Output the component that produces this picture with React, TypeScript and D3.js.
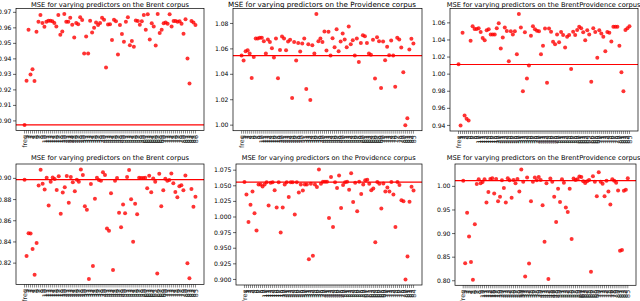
import React from "react";
import * as d3 from "d3";

// predictor labels on the x axis ("freq" then numbered predictors)
const predictors = [
  "freq", "1", "2", "3", "4", "5", "6", "7", "8", "9", "10", "11", "12", "13", "14", "15",
  "16", "17", "18", "19", "20", "21", "22", "23", "24", "25", "26", "27", "28", "29", "30",
  "31", "32", "33", "34", "35", "36", "37", "38", "39", "40", "41", "42", "43", "44", "45",
  "46", "47", "48", "49", "50", "51", "52", "53", "54", "55", "56", "57", "58", "59", "60",
  "61", "62", "63", "64", "65", "66", "67", "68", "69", "70", "71", "72", "73", "74", "75",
  "76", "77", "78", "79", "80", "81", "82", "83", "84", "85", "86",
];

// top row
const brentA = [
  0.8974, 0.9259, 0.9588, 0.93, 0.9333, 0.9257, 0.9575, 0.964, 0.9683, 0.9631, 0.9607, 0.964,
  0.9646, 0.9646, 0.9642, 0.9631, 0.9609, 0.9683, 0.9555, 0.9577, 0.9689, 0.964, 0.964, 0.9665,
  0.962, 0.9538, 0.9631, 0.9624, 0.9668, 0.965, 0.9434, 0.9544, 0.9434, 0.9646, 0.957, 0.9601,
  0.9635, 0.9618, 0.9631, 0.9665, 0.9652, 0.9344, 0.9622, 0.9624, 0.9521, 0.9652, 0.9642, 0.9428,
  0.9618, 0.956, 0.951, 0.964, 0.9668, 0.9488, 0.9516, 0.9478, 0.9648, 0.9644, 0.962, 0.9642,
  0.9683, 0.9588, 0.9687, 0.9525, 0.9629, 0.9609, 0.9486, 0.9689, 0.9566, 0.9588, 0.9629, 0.9635,
  0.9627, 0.9687, 0.9609, 0.9644, 0.9644, 0.964, 0.9642, 0.9627, 0.9562, 0.9655, 0.9402, 0.9242,
  0.9644, 0.9635, 0.9618,
];
const providenceA = [
  1.0547, 1.0508, 1.0582, 1.0589, 1.0563, 1.0371, 1.0537, 1.0682, 1.0682, 1.0687, 1.0687, 1.0661,
  1.0563, 1.0674, 1.0655, 1.0605, 1.0532, 1.0682, 1.0368, 1.0592, 1.0697, 1.0682, 1.0589, 1.0658,
  1.0671, 1.0213, 1.0655, 1.0508, 1.0647, 1.0579, 1.0642, 1.0682, 1.0284, 1.0637, 1.0197, 1.0629,
  1.0563, 1.0874, 1.0661, 1.0682, 1.0655, 1.0737, 1.0587, 1.0734, 1.0547, 1.0684, 1.0613, 1.0755,
  1.0582, 1.0658, 1.0721, 1.0674, 1.0613, 1.0776, 1.0637, 1.0668, 1.0547, 1.0682, 1.0497, 1.0647,
  1.0708, 1.07, 1.0647, 1.0563, 1.0553, 1.0671, 1.0366, 1.0692, 1.0661, 1.0292, 1.0658, 1.0511,
  1.0616, 1.055, 1.0666, 1.0547, 1.0303, 1.0687, 1.0674, 1.0611, 1.0416, 1.0, 1.0055, 1.0595,
  1.0679, 1.0642,
];
const brentProvA = [
  1.0117, 0.94, 1.0485, 0.9515, 0.9479, 0.9459, 1.039, 1.056, 1.0529, 1.0529, 1.0537, 1.0493,
  1.0422, 1.0398, 1.0513, 1.0525, 1.0465, 1.0465, 1.0465, 1.0537, 1.0596, 1.0299, 1.043, 1.0545,
  1.0505, 1.0152, 1.0501, 1.0465, 1.0501, 1.0232, 1.0703, 1.0545, 0.98, 1.0489, 0.995, 1.0101,
  1.045, 1.056, 1.0525, 1.0509, 1.0501, 1.0232, 1.0331, 1.0533, 0.9899, 1.0533, 1.0497, 1.0378,
  1.035, 1.0465, 1.0374, 1.0493, 1.0457, 1.0311, 1.0438, 1.0457, 1.0061, 1.0497, 1.0457, 1.0517,
  1.0556, 1.0537, 1.0489, 1.0398, 1.0513, 1.0465, 0.9911, 1.0537, 1.0493, 1.0192, 1.0513, 1.0477,
  1.0438, 1.0267, 1.0493, 1.0485, 1.0382, 1.0556, 1.0556, 1.0556, 1.0331, 1.0022, 0.98, 1.0517,
  1.0537, 1.056,
];

// bottom row
const brentB = [
  0.8988, 0.8268, 0.8483, 0.848, 0.8334, 0.8091, 0.839, 0.8932, 0.9081, 0.895, 0.8894, 0.9006,
  0.8745, 0.8969, 0.9009, 0.8994, 0.8891, 0.9019, 0.8667, 0.8866, 0.8916, 0.9022, 0.877, 0.9012,
  0.8963, 0.8879, 0.8988, 0.8969, 0.9084, 0.9031, 0.8738, 0.8704, 0.805, 0.8947, 0.8172, 0.8807,
  0.9006, 0.8984, 0.8978, 0.9059, 0.9031, 0.8527, 0.8505, 0.886, 0.8135, 0.8978, 0.9003, 0.8676,
  0.8539, 0.8754, 0.867, 0.9012, 0.9078, 0.8804, 0.8402, 0.876, 0.8661, 0.9006, 0.9003, 0.9003,
  0.9006, 0.8907, 0.9025, 0.8869, 0.9, 0.8969, 0.8103, 0.9044, 0.8738, 0.8888, 0.8997, 0.8978,
  0.8984, 0.9047, 0.8953, 0.8872, 0.8823, 0.8925, 0.8935, 0.8888, 0.9028, 0.82, 0.8057, 0.89,
  0.8732, 0.8826,
];
const providenceB = [
  1.056, 1.036, 0.992, 1.0197, 1.0408, 1.0061, 0.9785, 1.0522, 1.0522, 1.049, 1.0522, 1.0555,
  1.0186, 1.0549, 1.0555, 1.043, 1.0153, 1.0555, 0.9752, 1.0153, 1.0522, 1.0555, 1.0322, 1.0555,
  1.0555, 1.004, 1.0555, 1.0392, 1.0522, 1.0425, 1.0522, 1.0522, 0.9324, 1.0533, 0.9378, 1.0522,
  1.0479, 1.0761, 1.0533, 1.0566, 1.0566, 1.0566, 0.9985, 1.0642, 0.9839, 1.0555, 1.0463, 1.0663,
  1.0143, 1.0511, 1.0555, 1.0566, 1.0435, 1.0701, 1.024, 1.0549, 1.0094, 1.0566, 1.037, 1.0522,
  1.0587, 1.0598, 1.0533, 1.043, 1.0457, 0.9595, 1.056, 1.0533, 1.0137, 1.0538, 1.0408, 1.0473,
  1.0408, 1.056, 1.036, 0.9839, 1.056, 1.0511, 1.0267, 1.0251, 0.8999, 0.9367, 1.0246, 1.0484,
  1.0425,
];
const brentProvB = [
  1.0121, 0.8371, 0.9443, 0.8936, 0.84, 0.8021, 0.92, 1.005, 1.015, 1.0064, 1.0093, 1.015,
  0.9657, 0.9879, 1.0157, 1.0171, 0.985, 1.0157, 0.9686, 0.9779, 1.0129, 0.9964, 0.9657, 1.0171,
  1.0129, 0.9757, 1.0136, 1.0064, 1.0157, 0.9893, 1.0357, 1.01, 0.8093, 1.0186, 0.8364, 0.9686,
  1.01, 1.0186, 1.0129, 1.02, 1.0136, 0.96, 0.8829, 1.0064, 0.8036, 1.0164, 1.01, 0.9779,
  0.9243, 0.995, 0.9671, 1.015, 1.0079, 0.955, 0.9457, 0.995, 0.8886, 1.0164, 1.0136, 1.015,
  1.0207, 1.02, 1.0107, 1.0071, 1.0107, 1.0136, 0.8193, 1.0214, 1.01, 0.9793, 1.03, 1.01,
  1.0057, 0.9793, 1.0121, 0.9893, 0.9614, 1.015, 1.0121, 1.0079, 0.9914, 0.8636, 0.865, 0.9907,
  0.9929, 1.0171,
];

// baseline MSE (red horizontal line)
const baselines = [0.8974, 1.0547, 1.0113, 0.8988, 1.0558, 1.0121];

const titles = [
  "MSE for varying predictors on the Brent corpus",
  "MSE for varying predictors on the Providence corpus",
  "MSE for varying predictors on the BrentProvidence corpus",
  "MSE for varying predictors on the Brent corpus",
  "MSE for varying predictors on the Providence corpus",
  "MSE for varying predictors on the BrentProvidence corpus",
];

const yTicks = [
  [0.9, 0.91, 0.92, 0.93, 0.94, 0.95, 0.96, 0.97],
  [1.0, 1.02, 1.04, 1.06, 1.08],
  [0.94, 0.96, 0.98, 1.0, 1.02, 1.04, 1.06],
  [0.82, 0.84, 0.86, 0.88, 0.9],
  [0.9, 0.925, 0.95, 0.975, 1.0, 1.025, 1.05, 1.075],
  [0.8, 0.85, 0.9, 0.95, 1.0],
];
const yFormats = [".2f", ".2f", ".2f", ".2f", ".3f", ".2f"];

const series = [brentA, providenceA, brentProvA, brentB, providenceB, brentProvB];

// axes boxes: [left, right, top, bottom] and title placement
const layout = [
  { box: [16, 204, 8.5, 130.5], tx: 31, ty: 6.5, tw: 158, fs: 6.7 },
  { box: [233, 422, 8.5, 130.7], tx: 228, ty: 6.5, tw: 188, fs: 7.1 },
  { box: [450, 638, 8.5, 131], tx: 446.7, ty: 6.5, tw: 0, fs: 6.7 },
  { box: [16, 204, 164, 284.5], tx: 31, ty: 159.5, tw: 158, fs: 6.7 },
  { box: [236, 422, 164, 285], tx: 241.7, ty: 159.5, tw: 174, fs: 6.6 },
  { box: [455, 636, 164, 285.3], tx: 446.7, ty: 159.5, tw: 0, fs: 6.7 },
];

const FONT = "DejaVu Sans, sans-serif";

function Panel({ i }: { i: number }) {
  const values = series[i];
  const [x0, x1, y0, y1] = layout[i].box;
  const n = values.length;
  const x = d3
    .scaleLinear()
    .domain([-0.05 * (n - 1), 1.05 * (n - 1)])
    .range([x0, x1]);
  const [lo, hi] = d3.extent(values) as [number, number];
  const pad = (hi - lo) * 0.05;
  const y = d3.scaleLinear().domain([lo - pad, hi + pad]).range([y1, y0]);
  const fmt = d3.format(yFormats[i]);
  const L = layout[i];

  return (
    <g>
      <text
        x={L.tx}
        y={L.ty}
        fontSize={L.fs}
        fill="#000"
        {...(L.tw ? { textLength: L.tw, lengthAdjust: "spacingAndGlyphs" } : {})}
      >
        {titles[i]}
      </text>
      {values.map((v, j) => (
        <circle key={j} cx={x(j)} cy={y(v)} r={2} fill="red" fillOpacity={0.8} />
      ))}
      <line
        x1={x0}
        x2={x1}
        y1={y(baselines[i])}
        y2={y(baselines[i])}
        stroke="red"
        strokeWidth={1.2}
      />
      <rect x={x0} y={y0} width={x1 - x0} height={y1 - y0} fill="none" stroke="#000" strokeWidth={0.7} />
      {yTicks[i].map((t) => (
        <g key={t} transform={`translate(${x0},${y(t)})`}>
          <line x1={-3} x2={0} stroke="#000" strokeWidth={0.6} />
          <text x={-4.5} dy="0.34em" textAnchor="end" fontSize={6.1} fill="#000">
            {fmt(t)}
          </text>
        </g>
      ))}
      <g opacity={0.92}>
        {values.map((_, j) => (
          <g key={j} transform={`translate(${x(j)},${y1})`}>
            <line y1={0} y2={3} stroke="#000" strokeWidth={0.5} />
            <text
              transform="translate(0,4.5) rotate(-90)"
              textAnchor="end"
              dy="0.35em"
              fontSize={6.4}
              fill="#111"
            >
              {predictors[j]}
            </text>
          </g>
        ))}
      </g>
    </g>
  );
}

export default function App() {
  return (
    <div style={{ position: "fixed", left: 0, top: 0 }}>
      <svg width={640} height={301} style={{ display: "block", background: "#fff" }} fontFamily={FONT}>
        {series.map((_, i) => (
          <Panel key={i} i={i} />
        ))}
      </svg>
    </div>
  );
}
